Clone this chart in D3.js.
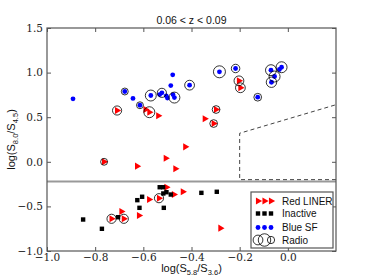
<!DOCTYPE html>
<html>
<head>
<meta charset="utf-8">
<script src="https://cdn.jsdelivr.net/npm/d3@7"></script>
<style>
  body { margin: 0; background: #fff; }
  svg { display: block; }
  .tick-label { font-family: "DejaVu Serif", serif; font-size: 10.5px; fill: #222; }
  .sans { font-family: "Liberation Sans", Arial, sans-serif; fill: #111; }
</style>
</head>
<body>
<div id="chart"></div>
<script>
// Red LINER galaxies
const redX = [-0.709, -0.591, -0.575, -0.538, -0.345, -0.298, -0.308, -0.203, -0.197,
  -0.763, -0.626, -0.507, -0.426, -0.467, -0.504, -0.436, -0.473, -0.576, -0.535,
  -0.691, -0.732, -0.681, -0.618, -0.280];
const redY = [0.575, 0.586, 0.556, 0.516, 0.482, 0.586, 0.429, 0.908, 0.830,
  0.000, -0.049, 0.040, 0.168, -0.078, -0.285, -0.336, -0.367, -0.423, -0.408,
  -0.557, -0.639, -0.639, -0.602, -0.744];

// Inactive galaxies
const inactiveX = [-0.850, -0.772, -0.705, -0.625, -0.605, -0.616, -0.532, -0.518,
  -0.517, -0.504, -0.486, -0.515, -0.359, -0.295];
const inactiveY = [-0.647, -0.751, -0.621, -0.430, -0.392, -0.516, -0.285, -0.285,
  -0.355, -0.341, -0.367, -0.516, -0.348, -0.336];

// Blue star-forming galaxies
const blueX = [-0.892, -0.677, -0.643, -0.614, -0.569, -0.532, -0.523, -0.505, -0.500,
  -0.486, -0.478, -0.477, -0.471, -0.408, -0.284, -0.217, -0.125, -0.070, -0.055,
  -0.068, -0.035, -0.026];
const blueY = [0.706, 0.788, 0.710, 0.634, 0.743, 0.754, 0.773, 0.740, 0.715,
  0.855, 0.975, 0.754, 0.720, 0.859, 1.009, 1.046, 0.724, 1.027, 0.956,
  0.892, 1.035, 1.060];

// Radio detections (circle size ~ radio strength)
const radioX = [-0.677, -0.614, -0.569, -0.523, -0.471, -0.408, -0.284, -0.217, -0.125,
  -0.070, -0.055, -0.068, -0.026, -0.709, -0.575, -0.298, -0.308, -0.203, -0.197,
  -0.763, -0.535, -0.732, -0.681];
const radioY = [0.788, 0.634, 0.743, 0.773, 0.720, 0.859, 1.009, 1.046, 0.724,
  1.027, 0.956, 0.892, 1.060, 0.575, 0.556, 0.586, 0.429, 0.908, 0.830,
  0.000, -0.408, -0.639, -0.639];
const radioSize = [2, 2, 5, 3.5, 5, 4, 6, 3, 2.5,
  5, 5, 4.5, 5, 3.5, 5, 2.5, 2.5, 4, 4,
  2, 3.5, 3.5, 3.5];

const xTicks = [-1.0, -0.8, -0.6, -0.4, -0.2, 0.0];
const yTicks = [-1.0, -0.5, 0.0, 0.5, 1.0, 1.5];
const legendLabels = ["Red LINER", "Inactive", "Blue SF", "Radio"];

const width = 374, height = 280;
const margin = { top: 28, right: 38, bottom: 29, left: 47 };
const innerWidth = width - margin.left - margin.right;
const innerHeight = height - margin.top - margin.bottom;

const svg = d3.select("#chart").append("svg")
  .attr("width", width)
  .attr("height", height);

const g = svg.append("g")
  .attr("transform", `translate(${margin.left},${margin.top})`);

const xScale = d3.scaleLinear().domain([-1.0, 0.2]).range([0, innerWidth]);
const yScale = d3.scaleLinear().domain([-1.0, 1.5]).range([innerHeight, 0]);
const rScale = d3.scaleSqrt().domain([0, 6]).range([0, 6]);

const fmt = d => (d < 0 ? "\u2212" : "") + Math.abs(d).toFixed(1);

// selection line and AGN wedge
g.append("line")
  .attr("x1", 0).attr("x2", innerWidth)
  .attr("y1", yScale(-0.22)).attr("y2", yScale(-0.22))
  .attr("stroke", "#999").attr("stroke-width", 2);

g.append("path")
  .attr("d", "M" + xScale(0.2) + "," + yScale(-0.2) +
    "L" + xScale(-0.2) + "," + yScale(-0.2) +
    "L" + xScale(-0.2) + "," + yScale(0.32) +
    "L" + xScale(0.2) + "," + yScale(0.64))
  .attr("fill", "none")
  .attr("stroke", "#444")
  .attr("stroke-width", 1)
  .attr("stroke-dasharray", "4,3");

// markers
const tri = d3.symbol().type(d3.symbolTriangle).size(22);

g.selectAll(".red").data(redX).enter().append("path")
  .attr("class", "red")
  .attr("d", tri)
  .attr("transform", (d, i) => `translate(${xScale(d)},${yScale(redY[i])}) rotate(90)`)
  .attr("fill", "#f00");

g.selectAll(".inactive").data(inactiveX).enter().append("rect")
  .attr("class", "inactive")
  .attr("x", d => xScale(d) - 2.2)
  .attr("y", (d, i) => yScale(inactiveY[i]) - 2.2)
  .attr("width", 4.4).attr("height", 4.4)
  .attr("fill", "#000");

g.selectAll(".blue").data(blueX).enter().append("circle")
  .attr("class", "blue")
  .attr("cx", d => xScale(d))
  .attr("cy", (d, i) => yScale(blueY[i]))
  .attr("r", 2.4)
  .attr("fill", "#0000ff");

g.selectAll(".radio").data(radioX).enter().append("circle")
  .attr("class", "radio")
  .attr("cx", d => xScale(d))
  .attr("cy", (d, i) => yScale(radioY[i]))
  .attr("r", (d, i) => rScale(radioSize[i]))
  .attr("fill", "none")
  .attr("stroke", "#000")
  .attr("stroke-width", 0.8);

// frame and ticks
g.append("rect")
  .attr("width", innerWidth).attr("height", innerHeight)
  .attr("fill", "none").attr("stroke", "#555").attr("stroke-width", 1.2);

const xAxis = d3.axisBottom(xScale).tickValues(xTicks).tickFormat(fmt)
  .tickSizeInner(-4).tickSizeOuter(0).tickPadding(3);
const xAxisTop = d3.axisTop(xScale).tickValues(xTicks)
  .tickSizeInner(-4).tickSizeOuter(0);
const yAxis = d3.axisLeft(yScale).tickValues(yTicks).tickFormat(fmt)
  .tickSizeInner(-4).tickSizeOuter(0).tickPadding(4);
const yAxisRight = d3.axisRight(yScale).tickValues(yTicks)
  .tickSizeInner(-4).tickSizeOuter(0);

const axBottom = g.append("g").attr("transform", `translate(0,${innerHeight})`).call(xAxis);
const axTop = g.append("g").call(xAxisTop);
const axLeft = g.append("g").call(yAxis);
const axRight = g.append("g").attr("transform", `translate(${innerWidth},0)`).call(yAxisRight);

[axBottom, axTop, axLeft, axRight].forEach(ax => {
  ax.select(".domain").remove();
  ax.selectAll(".tick line").attr("stroke", "#555");
});
[axTop, axRight].forEach(ax => ax.selectAll(".tick text").remove());
[axBottom, axLeft].forEach(ax => ax.selectAll(".tick text").attr("class", "tick-label"));

// title and axis labels
svg.append("text").attr("class", "sans")
  .attr("x", margin.left + innerWidth / 2).attr("y", 24)
  .attr("text-anchor", "middle").style("font-size", "10.5px")
  .text("0.06 < z < 0.09");

const xl = svg.append("text").attr("class", "sans")
  .attr("x", margin.left + innerWidth / 2).attr("y", 272)
  .attr("text-anchor", "middle").style("font-size", "11px");
xl.append("tspan").text("log(S");
xl.append("tspan").attr("dy", 2.5).style("font-size", "7.5px").text("5.8");
xl.append("tspan").attr("dy", -2.5).text("/S");
xl.append("tspan").attr("dy", 2.5).style("font-size", "7.5px").text("3.6");
xl.append("tspan").attr("dy", -2.5).text(")");

const yl = svg.append("text").attr("class", "sans")
  .attr("transform", `translate(15,${margin.top + innerHeight / 2}) rotate(-90)`)
  .attr("text-anchor", "middle").style("font-size", "11px");
yl.append("tspan").text("log(S");
yl.append("tspan").attr("dy", 2.5).style("font-size", "7.5px").text("8.0");
yl.append("tspan").attr("dy", -2.5).text("/S");
yl.append("tspan").attr("dy", 2.5).style("font-size", "7.5px").text("4.5");
yl.append("tspan").attr("dy", -2.5).text(")");

// legend
const lg = svg.append("g").attr("transform", "translate(251,192)");
lg.append("rect").attr("width", 82).attr("height", 56)
  .attr("fill", "#fff").attr("stroke", "#555").attr("stroke-width", 1.2);

const rowY = [9, 21.5, 35.5, 48];
const markX = [7, 13.5, 20];
markX.forEach(mx => {
  lg.append("path").attr("d", tri)
    .attr("transform", `translate(${mx},${rowY[0]}) rotate(90)`).attr("fill", "#f00");
  lg.append("rect").attr("x", mx - 2.2).attr("y", rowY[1] - 2.2)
    .attr("width", 4.4).attr("height", 4.4).attr("fill", "#000");
  lg.append("circle").attr("cx", mx).attr("cy", rowY[2]).attr("r", 2.4).attr("fill", "#0000ff");
});
const legendRadio = [4, 6.5, 2.2];
markX.forEach((mx, i) => {
  lg.append("circle").attr("cx", mx).attr("cy", rowY[3])
    .attr("r", rScale(legendRadio[i]))
    .attr("fill", "none").attr("stroke", "#000").attr("stroke-width", 0.8);
});
legendLabels.forEach((t, i) => {
  lg.append("text").attr("class", "sans")
    .attr("x", 31).attr("y", rowY[i] + 3.5)
    .style("font-size", "10px").text(t);
});
</script>
</body>
</html>
